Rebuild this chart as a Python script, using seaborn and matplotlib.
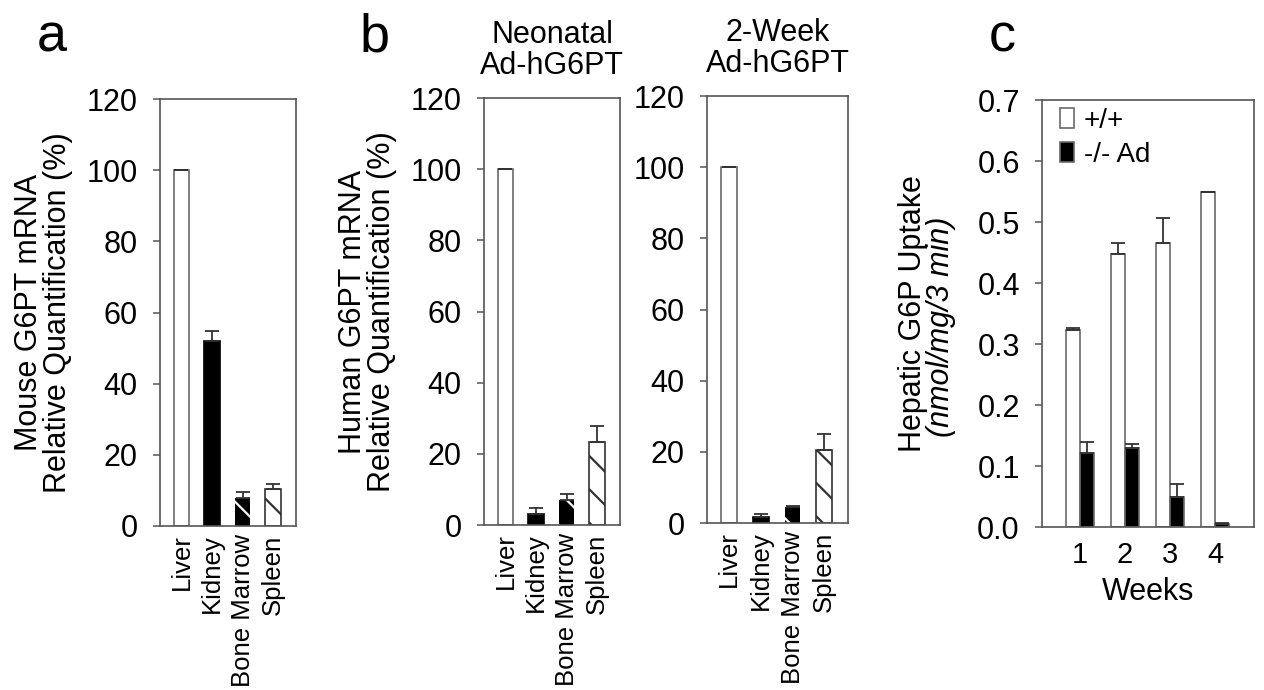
import numpy as np
import pandas as pd
import seaborn as sns
import matplotlib.pyplot as plt

# data
tissues = ["Liver", "Kidney", "Bone Marrow", "Spleen"]
mouse_vals = [100, 52, 7.8, 10.4]
mouse_err = [0, 2.8, 1.8, 1.4]
neo_vals = [100, 3.1, 7.0, 23.3]
neo_err = [0, 1.6, 1.7, 4.4]
twoweek_vals = [100, 1.7, 4.4, 20.4]
twoweek_err = [0, 0.7, 0.3, 4.5]

weeks = ["1", "2", "3", "4"]
wt_uptake = [0.323, 0.447, 0.466, 0.550]
wt_err = [0.004, 0.018, 0.040, 0.0]
ko_uptake = [0.122, 0.129, 0.049, 0.005]
ko_err = [0.017, 0.007, 0.022, 0.002]

sns.set_style("white")
plt.rcParams['font.family'] = ['Liberation Sans', 'DejaVu Sans']
plt.rcParams['hatch.linewidth'] = 1.6
plt.rcParams['text.color'] = 'black'
plt.rcParams['xtick.color'] = 'black'
plt.rcParams['ytick.color'] = 'black'
plt.rcParams['axes.labelcolor'] = 'black'

EDGE = "#6a6a6a"
fig = plt.figure(figsize=(12.64, 6.9), dpi=100)


def style_axes(ax):
    for s in ax.spines.values():
        s.set_color("#555555")
        s.set_linewidth(1.2)
    ax.tick_params(axis='y', direction='out', length=5, width=1.1, color="#555555",
                   labelsize=22, pad=11, left=True)
    ax.tick_params(axis='x', length=0, labelsize=18.5, pad=6)


def tissue_panel(ax, vals, errs, ylabel=None):
    sns.barplot(x=tissues, y=vals, ax=ax, color="white", edgecolor=EDGE,
                linewidth=1.2, width=0.5, saturation=1)
    bars = ax.patches
    # kidney solid black
    bars[1].set_facecolor("black")
    bars[1].set_edgecolor("black")
    # bone marrow black with white stripes
    bars[2].set_facecolor("black")
    bars[2].set_edgecolor("white")
    bars[2].set_hatch("\\")
    bars[2].set_linewidth(0)
    # spleen white with dark stripes
    bars[3].set_hatch("\\")
    bars[3].set_edgecolor("#333333")
    xs = [b.get_x() + b.get_width() / 2 for b in bars]
    ax.errorbar(xs, vals, yerr=[np.zeros(len(errs)), errs], fmt='none',
                ecolor="#333333", elinewidth=1.3, capsize=5, capthick=1.3)
    ax.set_ylim(0, 120)
    ax.set_yticks(range(0, 121, 20))
    ax.set_xlim(-0.7, 3.75)
    ax.set_xticks(range(len(tissues)))
    ax.set_xticklabels(tissues, rotation=90)
    style_axes(ax)
    if ylabel:
        ax.set_ylabel(ylabel, fontsize=22, labelpad=10, linespacing=0.95)


# panel a
ax_a = fig.add_axes([0.1266, 0.2377, 0.1076, 0.6188])
tissue_panel(ax_a, mouse_vals, mouse_err,
             "Mouse G6PT mRNA\nRelative Quantification (%)")

# panel b
ax_b1 = fig.add_axes([0.3829, 0.2391, 0.1076, 0.6188])
tissue_panel(ax_b1, neo_vals, neo_err,
             "Human G6PT mRNA\nRelative Quantification (%)")
ax_b1.set_title("Neonatal\nAd-hG6PT", fontsize=22, pad=17, linespacing=1.05)

ax_b2 = fig.add_axes([0.5593, 0.2420, 0.1116, 0.6188])
tissue_panel(ax_b2, twoweek_vals, twoweek_err)
ax_b2.set_title("2-Week\nAd-hG6PT", fontsize=22, pad=17, linespacing=1.05)

# panel c
ax_c = fig.add_axes([0.8244, 0.2362, 0.1677, 0.6188])
df_c = pd.DataFrame({
    "week": weeks * 2,
    "uptake": wt_uptake + ko_uptake,
    "genotype": ["+/+"] * 4 + ["-/- Ad"] * 4,
})
sns.barplot(data=df_c, x="week", y="uptake", hue="genotype", ax=ax_c,
            palette={"+/+": "white", "-/- Ad": "black"}, edgecolor=EDGE,
            linewidth=1.2, width=0.62, saturation=1)
for cont, errs in zip(ax_c.containers, [wt_err, ko_err]):
    xs = [b.get_x() + b.get_width() / 2 for b in cont]
    hs = [b.get_height() for b in cont]
    ax_c.errorbar(xs, hs, yerr=[np.zeros(len(errs)), errs], fmt='none',
                  ecolor="#333333", elinewidth=1.3, capsize=5, capthick=1.3)
ax_c.set_ylim(0, 0.7)
ax_c.set_yticks(np.arange(0, 0.71, 0.1))
ax_c.set_yticklabels([f"{v:.1f}" for v in np.arange(0, 0.71, 0.1)])
ax_c.set_xlim(-0.85, 3.87)
style_axes(ax_c)
ax_c.tick_params(axis='x', labelsize=21, pad=10)
ax_c.set_xlabel("Weeks", fontsize=22, labelpad=6)
ax_c.set_ylabel("")
handles, labels = ax_c.get_legend_handles_labels()
ax_c.legend(handles, labels, loc="upper left", bbox_to_anchor=(0.02, 1.015),
            frameon=False, fontsize=20, handlelength=0.5, handleheight=0.75,
            handletextpad=0.35, labelspacing=0.3, borderaxespad=0.1)
ax_c.text(-0.61, 0.5, "Hepatic G6P Uptake", transform=ax_c.transAxes,
          rotation=90, ha="center", va="center", fontsize=22)
ax_c.text(-0.475, 0.47, "(nmol/mg/3 min)", transform=ax_c.transAxes,
          rotation=90, ha="center", va="center", fontsize=22, style="italic")

# panel letters
fig.text(0.041, 0.945, "a", fontsize=39, ha="center", va="center")
fig.text(0.296, 0.945, "b", fontsize=39, ha="center", va="center")
fig.text(0.793, 0.945, "c", fontsize=39, ha="center", va="center")

fig.savefig("out.png", dpi=100)
